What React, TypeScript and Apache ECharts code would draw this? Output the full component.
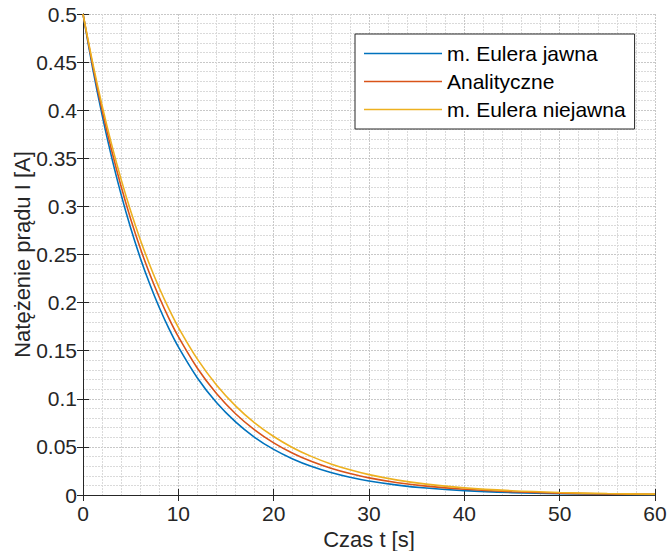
import React, { useEffect, useRef } from "react";
import * as echarts from "echarts";

const timeS = [0, 1, 2, 3, 4, 5, 6, 7, 8, 9, 10, 12, 14, 16, 18, 20, 22, 24, 26, 28, 30, 33, 36, 40, 45, 50, 55, 60];
const eulerExplicit = [0.5, 0.4444, 0.3951, 0.3512, 0.3122, 0.2775, 0.2467, 0.2193, 0.1949, 0.1732, 0.154, 0.1217, 0.0961, 0.076, 0.06, 0.0474, 0.0375, 0.0296, 0.0234, 0.0185, 0.0146, 0.0103, 0.0072, 0.0045, 0.0025, 0.0014, 0.0008, 0.0004];
const analytic = [0.5, 0.4474, 0.4004, 0.3583, 0.3206, 0.2869, 0.2567, 0.2297, 0.2056, 0.1839, 0.1646, 0.1318, 0.1055, 0.0845, 0.0677, 0.0542, 0.0434, 0.0347, 0.0278, 0.0223, 0.0178, 0.0128, 0.0092, 0.0059, 0.0034, 0.0019, 0.0011, 0.0006];
const eulerImplicit = [0.5, 0.45, 0.405, 0.3645, 0.3281, 0.2952, 0.2657, 0.2391, 0.2152, 0.1937, 0.1743, 0.1412, 0.1144, 0.0927, 0.075, 0.0608, 0.0492, 0.0399, 0.0323, 0.0262, 0.0212, 0.0155, 0.0113, 0.0074, 0.0044, 0.0026, 0.0015, 0.0009];
const seriesNames = ["m. Eulera jawna", "Analityczne", "m. Eulera niejawna"];
const seriesColors = ["#0072BD", "#D95319", "#EDB120"];

const FONT = "'Liberation Sans', Arial, Helvetica, sans-serif";
const AX = "#262626";

export default function App() {
  const ref = useRef<HTMLDivElement>(null);
  useEffect(() => {
    document.body.style.margin = "0";
    if (!ref.current) return;
    const chart = echarts.init(ref.current, null, { renderer: "svg" });
    const values = [eulerExplicit, analytic, eulerImplicit];
    const axisCommon = {
      axisLine: { show: true, lineStyle: { color: AX, width: 1 } },
      axisTick: { show: true, inside: true, length: 6, lineStyle: { color: AX } },
    };
    chart.setOption({
      animation: false,
      backgroundColor: "#ffffff",
      textStyle: { fontFamily: FONT },
      grid: { left: 83, right: 12, top: 14, bottom: 56, containLabel: false, outerBoundsMode: "none" },
      legend: {
        orient: "vertical",
        left: 355,
        top: 34,
        icon: "rect",
        itemWidth: 78,
        itemHeight: 1.6,
        itemGap: 7,
        padding: [9, 9, 9, 9],
        backgroundColor: "#ffffff",
        borderColor: AX,
        borderWidth: 1,
        borderRadius: 0,
        textStyle: { fontFamily: FONT, fontSize: 21, color: "#000000", lineHeight: 21 },
        data: seriesNames,
      },
      xAxis: [
        {
          type: "value",
          min: 0,
          max: 60,
          interval: 10,
          name: "Czas t [s]",
          nameLocation: "middle",
          nameGap: 33,
          nameMoveOverlap: false,
          nameTextStyle: { fontFamily: FONT, fontSize: 22, color: AX },
          ...axisCommon,
          axisLabel: { fontFamily: FONT, fontSize: 21, color: AX, margin: 8 },
          splitLine: { show: true, lineStyle: { color: "#c8c8c8", type: [2, 1], width: 1 } },
          minorTick: { show: false, splitNumber: 5 },
          minorSplitLine: { show: true, lineStyle: { color: "#dadada", type: [2, 1], width: 1 } },
        },
        {
          type: "value",
          position: "top",
          min: 0,
          max: 60,
          interval: 10,
          ...axisCommon,
          axisLabel: { show: false },
          splitLine: { show: false },
        },
      ],
      yAxis: [
        {
          type: "value",
          min: 0,
          max: 0.5,
          interval: 0.05,
          name: "Natężenie prądu I [A]",
          nameLocation: "middle",
          nameGap: 50,
          nameMoveOverlap: false,
          nameTextStyle: { fontFamily: FONT, fontSize: 22, color: AX },
          ...axisCommon,
          axisLabel: { fontFamily: FONT, fontSize: 21, color: AX, margin: 6 },
          splitLine: { show: true, lineStyle: { color: "#c8c8c8", type: [2, 1], width: 1 } },
          minorTick: { show: false, splitNumber: 5 },
          minorSplitLine: { show: true, lineStyle: { color: "#dadada", type: [2, 1], width: 1 } },
        },
        {
          type: "value",
          position: "right",
          min: 0,
          max: 0.5,
          interval: 0.05,
          ...axisCommon,
          axisLabel: { show: false },
          splitLine: { show: false },
        },
      ],
      series: seriesNames.map((name, i) => ({
        name,
        type: "line",
        xAxisIndex: 0,
        yAxisIndex: 0,
        symbol: "none",
        smooth: 0.3,
        lineStyle: { color: seriesColors[i], width: 1.6 },
        itemStyle: { color: seriesColors[i] },
        data: timeS.map((t, k) => [t, values[i][k]]),
      })),
    });
    return () => chart.dispose();
  }, []);
  return <div ref={ref} style={{ width: 667, height: 551 }} />;
}
